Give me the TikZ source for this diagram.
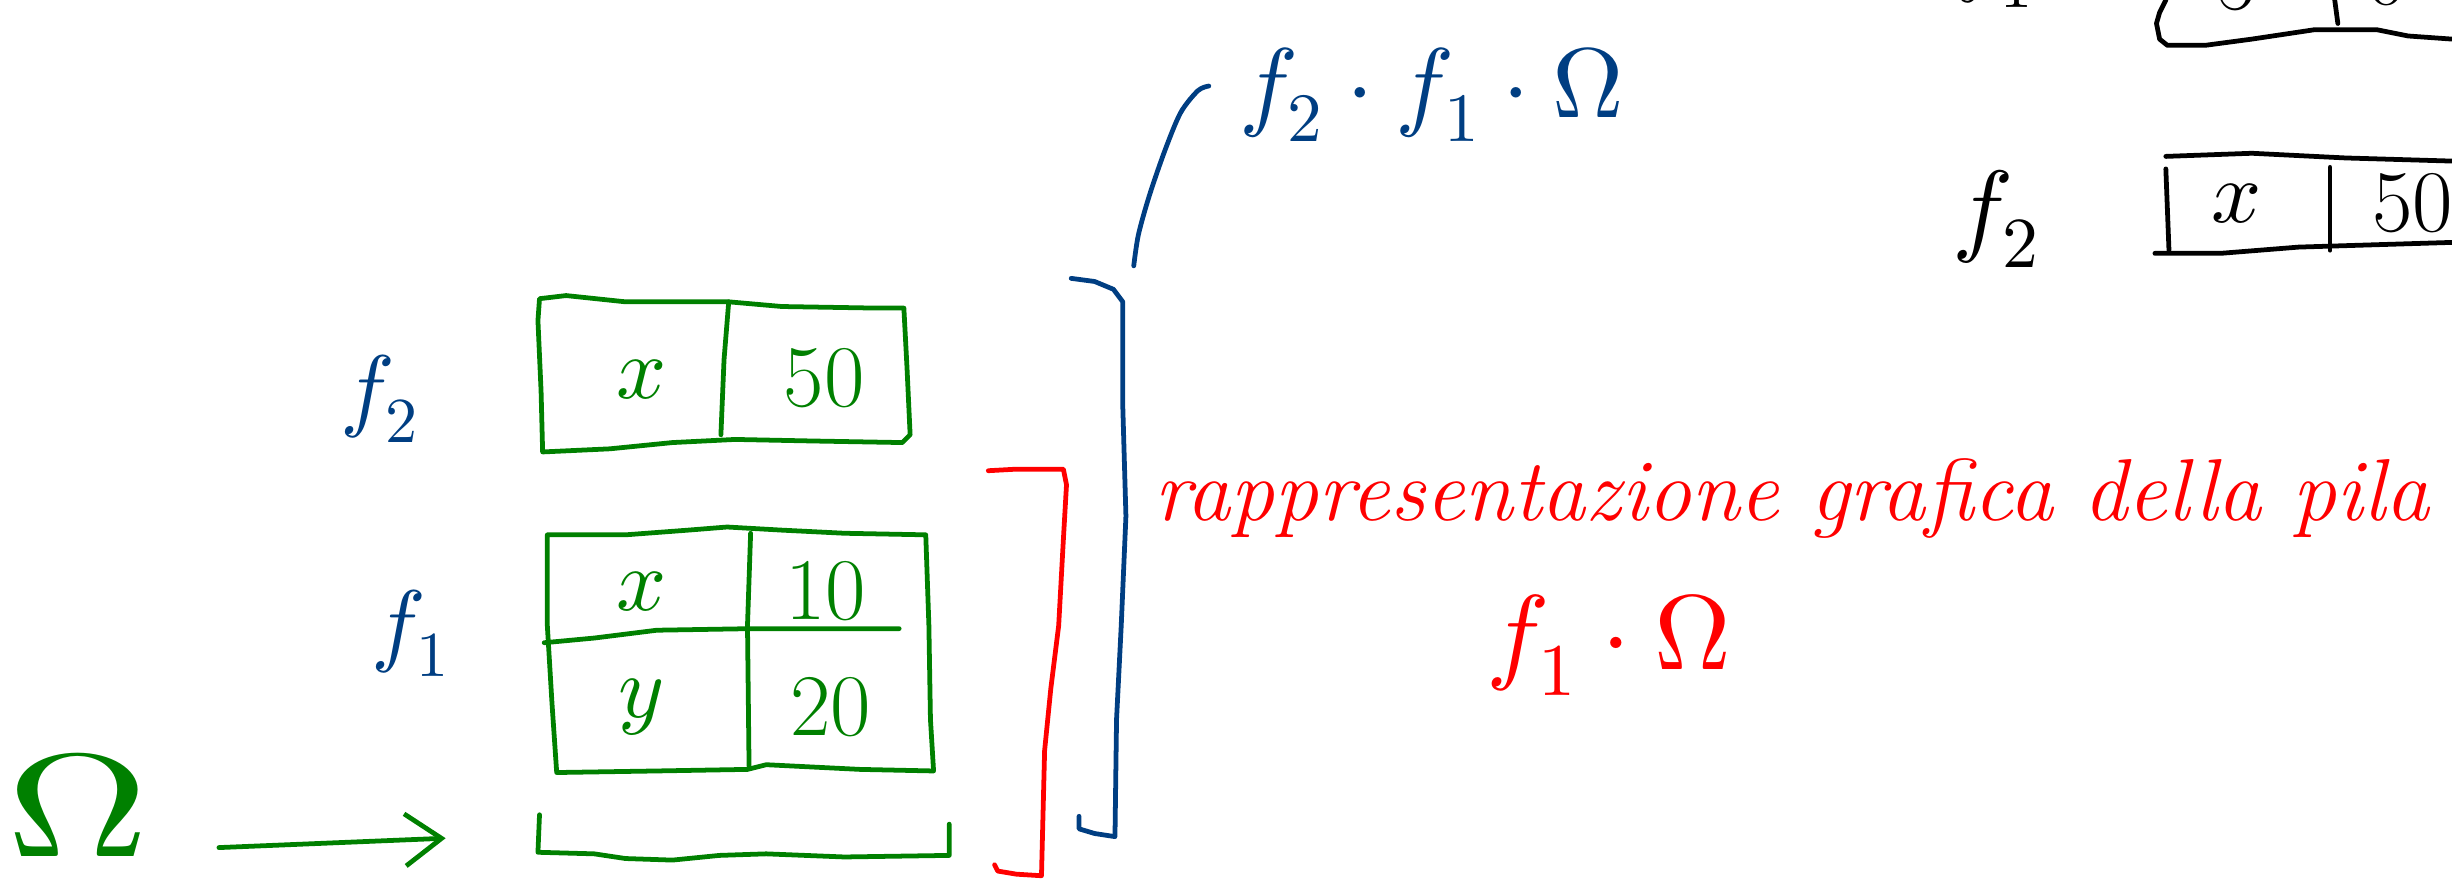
\documentclass[tikz,border=0pt]{standalone}
\usepackage{fontspec}
\usepackage{unicode-math}
\setmathfont{Latin Modern Math}
\usetikzlibrary{arrows.meta}
\definecolor{grn}{RGB}{0,128,0}
\definecolor{nvy}{RGB}{0,62,130}
\definecolor{rd}{RGB}{255,0,0}
\begin{document}
\begin{tikzpicture}[x=0.15mm,y=-0.15mm,
  hand/.style={line width=1.3pt,line cap=round,line join=round},
  gline/.style={hand,draw=grn},
  bline/.style={hand,draw=nvy},
  rline/.style={hand,draw=rd},
  kline/.style={hand,draw=black},
  cell/.style={inner sep=0pt,font=\fontsize{24}{28}\selectfont},
  lbl/.style={inner sep=0pt,font=\fontsize{25}{30}\selectfont},
]
\useasboundingbox (0,0) rectangle (1568,563);
\clip (0,0) rectangle (1568,563);

% ---------- green stack ----------
% f2 frame
\draw[gline] (345,191) -- (362,189) -- (400,193) -- (440,193) -- (466,193) -- (500,196) -- (560,197) -- (578,197)
  -- (580,235) -- (582,278) -- (577,283) -- (520,282) -- (470,281) -- (430,283) -- (390,287) -- (347,289)
  -- (346,250) -- (344,205) -- cycle;
\draw[gline] (466,193) -- (463,230) -- (461,278);
\node[cell,text=grn] (f2x) at (410,243) {$x$};
\node[cell,text=grn] (f2v) at (527,242) {50};

% f1 frame
\draw[gline] (350,342) -- (400,342) -- (440,339) -- (465,337) -- (500,339) -- (540,341) -- (592,342)
  -- (594,400) -- (595,460) -- (597,493) -- (550,492) -- (490,489) -- (478,492) -- (420,493) -- (356,494)
  -- (353,450) -- (350,400) -- cycle;
\draw[gline] (348,411) -- (380,408) -- (420,403) -- (480,402) -- (575,402);
\draw[gline] (480,341) -- (478,400) -- (479,490);
\node[cell,text=grn] (f1x) at (410,378) {$x$};
\node[cell,text=grn] (f1xv) at (528,378) {10};
\node[cell,text=grn] (f1y) at (410,452) {$y$};
\node[cell,text=grn] (f1yv) at (531,452) {20};

% base of the stack
\draw[gline] (345,521) -- (344,545) -- (380,546) -- (400,549) -- (430,550) -- (460,547) -- (490,546)
  -- (540,548) -- (607,547) -- (607,527);

% Omega and arrow
\node[inner sep=0pt,text=grn,font=\fontsize{40}{46}\selectfont,anchor=base] (gom) at (50,548) {\scalebox{1.35}[1]{$\Omega$}};
\coordinate (a0) at (140,542);
\coordinate (a1) at (285,536);
\draw[gline,-{Straight Barb[length=3.5mm,width=5mm]}] (a0) -- (a1);

% blue labels
\node[lbl,text=nvy] (lf2) at (243,255) {$f_2$};
\node[lbl,text=nvy] (lf1) at (263,405) {$f_1$};

% ---------- brackets ----------
\draw[rline] (632,301) -- (650,300) -- (680,300) -- (682,310) -- (680,345) -- (677,400) -- (672,440)
  -- (668,480) -- (666,560) -- (650,559) -- (638,557) -- (636,553);
\draw[bline] (685,178) -- (700,180) -- (712,185) -- (718,193) -- (718,260) -- (720,330) -- (717,400)
  -- (714,460) -- (713,535) -- (700,533) -- (690,530) -- (690,522);
\draw[bline] plot[smooth] coordinates {(773,55) (766,58) (755,72) (745,96) (735,125) (728,150) (725,170)};

% ---------- texts ----------
\node[inner sep=0pt,text=nvy,font=\fontsize{27}{32}\selectfont,anchor=base west] (top) at (792,75) {$f_2\cdot f_1\cdot\Omega$};
\node[inner sep=0pt,text=rd,font=\itshape\fontsize{24}{28}\selectfont,anchor=base west] (rtitle) at (738,333) {rappresentazione grafica della pila};
\node[inner sep=0pt,text=rd,font=\fontsize{29}{34}\selectfont,anchor=base west] (rf) at (950,428) {$f_1\cdot\Omega$};

% ---------- black copy, top right ----------
\node[inner sep=0pt,font=\fontsize{25}{30}\selectfont,anchor=base west] (kf1) at (1250,-10) {$f_1$};
\draw[kline] (1385,0) -- (1381,8) -- (1379,15) -- (1381,25) -- (1386,29) -- (1410,29) -- (1440,25)
  -- (1480,19) -- (1520,19) -- (1540,23) -- (1568,25);
\draw[kline] (1493,0) -- (1495,15);
\node[cell,anchor=base] (k5) at (1430,6) {5};
\node[cell,anchor=base] (k0) at (1526,3) {0};

\node[inner sep=0pt,font=\fontsize{28}{32}\selectfont,anchor=base west] (kf2) at (1248,155) {$f_2$};
\draw[kline] (1568,103) -- (1500,101) -- (1440,98) -- (1385,100);
\draw[kline] (1385,108) -- (1387,160);
\draw[kline] (1378,162) -- (1420,162) -- (1470,158) -- (1568,155);
\draw[kline] (1490,107) -- (1490,160);
\node[cell] (kx) at (1430,130) {$x$};
\node[cell] (k50) at (1543,130) {50};
\end{tikzpicture}
\end{document}
